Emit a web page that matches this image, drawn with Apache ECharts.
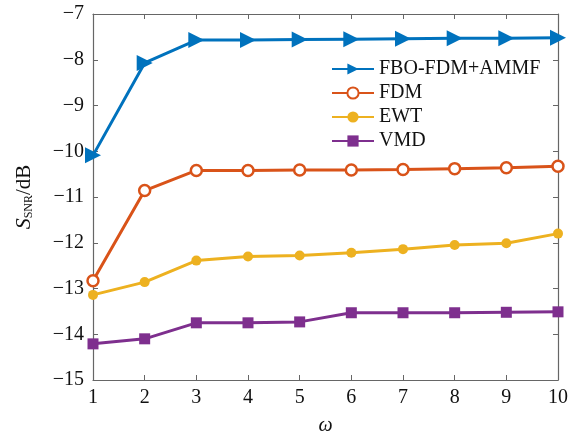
<!DOCTYPE html>
<html>
<head>
<meta charset="utf-8">
<script src="https://cdn.jsdelivr.net/npm/echarts@6/dist/echarts.min.js"></script>
<style>
  html, body { margin: 0; padding: 0; background: #fff; }
  #main { width: 570px; height: 432px; }
</style>
</head>
<body>
<div id="main"></div>
<script>
// omega values on the x axis
var omega = [1, 2, 3, 4, 5, 6, 7, 8, 9, 10];

// S_SNR (dB) per method
var fboFdmAmmf = [-10.09, -8.07, -7.57, -7.57, -7.56, -7.55, -7.54, -7.53, -7.53, -7.52];
var fdm = [-12.83, -10.86, -10.42, -10.42, -10.41, -10.41, -10.40, -10.38, -10.36, -10.33];
var ewt = [-13.14, -12.86, -12.39, -12.30, -12.28, -12.22, -12.14, -12.05, -12.01, -11.80];
var vmd = [-14.21, -14.10, -13.75, -13.75, -13.73, -13.53, -13.53, -13.53, -13.52, -13.51];

var yTicks = [-15, -14, -13, -12, -11, -10, -9, -8, -7];

var FONT = "'Liberation Serif', 'Times New Roman', serif";
var AXIS_COLOR = "#666";

function pairs(ys) {
  return omega.map(function (x, i) { return [x, ys[i]]; });
}

function minusSign(v) {
  return String(v).replace("-", "\u2212");
}

var chart = echarts.init(document.getElementById("main"));

var axisLine = { show: true, lineStyle: { color: AXIS_COLOR, width: 1.2 } };
var axisTick = { show: true, inside: true, length: 5, lineStyle: { color: AXIS_COLOR } };

chart.setOption({
  animation: false,
  backgroundColor: "#fff",
  grid: { left: 93, right: 12, top: 14, bottom: 52, outerBoundsMode: "none", containLabel: false },
  legend: {
    orient: "vertical",
    left: 326,
    top: 54,
    itemWidth: 42,
    itemHeight: 14,
    itemGap: 4,
    textStyle: { fontFamily: FONT, fontSize: 20, color: "#111" },
    data: ["FBO-FDM+AMMF", "FDM", "EWT", "VMD"]
  },
  xAxis: [
    {
      type: "value",
      min: 1, max: 10, interval: 1,
      axisLine: axisLine, axisTick: axisTick,
      splitLine: { show: false },
      axisLabel: { fontFamily: FONT, fontSize: 20, color: "#111", margin: 8 },
      name: "ω",
      nameLocation: "middle",
      nameGap: 36,
      nameTextStyle: { fontFamily: FONT, fontSize: 20, fontStyle: "italic", color: "#111" }
    },
    {
      type: "value", position: "top",
      min: 1, max: 10, interval: 1,
      axisLine: axisLine, axisTick: axisTick,
      splitLine: { show: false }, axisLabel: { show: false }
    }
  ],
  yAxis: [
    {
      type: "value",
      min: yTicks[0], max: yTicks[yTicks.length - 1], interval: 1,
      axisLine: axisLine, axisTick: axisTick,
      splitLine: { show: false },
      axisLabel: {
        fontFamily: FONT, fontSize: 20, color: "#111", margin: 9,
        formatter: function (v) { return minusSign(v); }
      },
      name: "{s|S}{sub|SNR}{n|/dB}",
      nameLocation: "middle",
      nameRotate: 90,
      nameGap: 58,
      nameTextStyle: {
        rich: {
          s: { fontFamily: FONT, fontSize: 22, fontStyle: "italic", color: "#111" },
          sub: { fontFamily: FONT, fontSize: 12, color: "#111", verticalAlign: "bottom", padding: [9, 0, 0, 0] },
          n: { fontFamily: FONT, fontSize: 21, color: "#111" }
        }
      }
    },
    {
      type: "value", position: "right",
      min: yTicks[0], max: yTicks[yTicks.length - 1], interval: 1,
      axisLine: axisLine, axisTick: axisTick,
      splitLine: { show: false }, axisLabel: { show: false }
    }
  ],
  series: [
    {
      name: "FBO-FDM+AMMF", type: "line", data: pairs(fboFdmAmmf),
      symbol: "triangle", symbolSize: 16, symbolRotate: -90,
      lineStyle: { width: 3, color: "#0072BD" },
      itemStyle: { color: "#0072BD" }
    },
    {
      name: "FDM", type: "line", data: pairs(fdm),
      symbol: "circle", symbolSize: 11,
      lineStyle: { width: 3, color: "#D95319" },
      itemStyle: { color: "#fff", borderColor: "#D95319", borderWidth: 2.5 }
    },
    {
      name: "EWT", type: "line", data: pairs(ewt),
      symbol: "circle", symbolSize: 10,
      lineStyle: { width: 3, color: "#EDB120" },
      itemStyle: { color: "#EDB120" }
    },
    {
      name: "VMD", type: "line", data: pairs(vmd),
      symbol: "rect", symbolSize: 11,
      lineStyle: { width: 3, color: "#7E2F8E" },
      itemStyle: { color: "#7E2F8E" }
    }
  ]
});
</script>
</body>
</html>
